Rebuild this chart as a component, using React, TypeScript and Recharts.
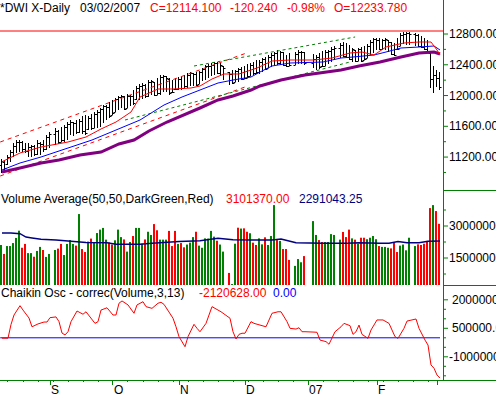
import React from 'react';
import { ComposedChart, Bar, Line, XAxis, YAxis, ReferenceLine } from 'recharts';

const FONT = "'Liberation Sans', Arial, sans-serif";
const AXIS_GREEN = '#008000';
const UP_GREEN = '#008000';
const DOWN_RED = '#ff0000';

// one slot per weekday, 10 Aug 2006 .. 2 Mar 2007 (market holidays left empty)
const highs = [
  11175, 11162, 11227, 11292, 11383, 11422, 11422, 11409, 11383, 11383,
  11357, 11357, 11422, 11396, 11422, 11487, 11526, null, 11578, 11552,
  11591, 11617, 11656, 11682, 11656, 11682, 11695, 11734, 11747, 11734,
  11760, 11786, 11812, 11838, 11877, 11877, 11916, 11942, 11968, 11994,
  12007, 11994, 12020, 12007, 12072, 12124, 12150, 12163, 12150, 12202,
  12202, 12176, 12228, 12267, 12267, 12254, 12228, 12202, 12228, 12241,
  12241, 12267, 12293, 12306, 12293, 12306, 12319, 12358, 12397, 12410,
  12423, 12436, 12436, 12423, 12384, null, 12306, 12332, 12332, 12358,
  12371, 12384, 12410, 12423, 12436, 12462, 12462, 12488, 12501, 12527,
  12553, 12566, 12592, 12579, 12566, 12527, 12553, null, 12566, 12592,
  12579, 12566, null, null, 12540, 12527, 12553, 12579, 12592, 12592,
  12631, 12644, null, 12683, 12696, 12683, 12657, 12618, 12592, 12618,
  12631, 12644, 12670, 12722, 12748, 12748, 12748, 12735, 12748, 12722,
  12696, 12683, 12748, 12813, 12826, 12826, 12826, null, 12813, 12800,
  12774, 12748, 12722, 12553, 12384, 12332, 12306,
];
const lows = [
  10993, 11032, 11097, 11136, 11201, 11253, 11266, 11266, 11253, 11201,
  11201, 11214, 11227, 11227, 11266, 11292, 11318, null, 11357, 11370,
  11396, 11396, 11422, 11487, 11474, 11500, 11513, 11500, 11487, 11552,
  11552, 11578, 11578, 11591, 11643, 11682, 11708, 11747, 11786, 11812,
  11838, 11812, 11838, 11864, 11877, 11942, 11942, 11955, 11968, 11981,
  12007, 11994, 12007, 12007, 12046, 12046, 12007, 12033, 12072, 12072,
  12072, 12098, 12098, 12124, 12124, 12124, 12150, 12189, 12202, 12228,
  12254, 12267, 12280, 12254, 12202, null, 12137, 12150, 12176, 12176,
  12202, 12215, 12228, 12254, 12267, 12280, 12280, 12306, 12332, 12358,
  12371, 12384, 12397, 12397, 12384, 12371, 12384, null, 12397, 12410,
  12410, 12397, null, null, 12358, 12332, 12345, 12371, 12384, 12410,
  12436, 12462, null, 12488, 12501, 12488, 12462, 12436, 12436, 12449,
  12436, 12462, 12488, 12527, 12553, 12592, 12592, 12592, 12592, 12566,
  12527, 12514, 12592, 12644, 12670, 12657, 12657, null, 12644, 12631,
  12618, 12592, 12566, 12098, 12033, 12111, 12072,
];
const opens = [
  11100, 11140, 11110, 11200, 11270, 11350, 11400, 11390, 11300, 11280,
  11330, 11340, 11240, 11380, 11370, 11300, 11460, null, 11500, 11540,
  11400, 11420, 11590, 11630, 11650, 11640, 11530, 11670, 11540, 11560,
  11710, 11580, 11760, 11790, 11820, 11860, 11850, 11750, 11790, 11950,
  11980, 11990, 11840, 12000, 11990, 11950, 12100, 12130, 12140, 11990,
  12180, 12170, 12010, 12030, 12240, 12250, 12220, 12040, 12080, 12090,
  12220, 12100, 12120, 12270, 12290, 12280, 12150, 12300, 12340, 12380,
  12390, 12400, 12420, 12290, 12380, null, 12300, 12280, 12180, 12320,
  12340, 12220, 12230, 12260, 12400, 12290, 12300, 12440, 12470, 12360,
  12500, 12530, 12550, 12420, 12560, 12400, 12390, null, 12400, 12540,
  12570, 12560, null, null, 12420, 12480, 12500, 12380, 12390, 12570,
  12580, 12610, null, 12620, 12660, 12520, 12500, 12480, 12590, 12450,
  12600, 12462, 12490, 12650, 12700, 12730, 12720, 12610, 12720, 12720,
  12690, 12540, 12600, 12650, 12790, 12800, 12810, null, 12800, 12786,
  12650, 12630, 12610, 12550, 12216, 12268, 12234,
];
const closes = [
  11150, 11060, 11200, 11270, 11350, 11400, 11400, 11300, 11280, 11330,
  11340, 11240, 11380, 11370, 11300, 11460, 11500, null, 11540, 11400,
  11420, 11590, 11630, 11660, 11640, 11530, 11670, 11540, 11510, 11710,
  11580, 11760, 11790, 11820, 11860, 11850, 11730, 11770, 11950, 11980,
  11990, 11830, 12000, 11990, 11900, 12100, 12130, 12140, 11990, 12180,
  12190, 12010, 12030, 12240, 12250, 12230, 12030, 12050, 12090, 12220,
  12100, 12120, 12270, 12290, 12280, 12140, 12300, 12340, 12380, 12390,
  12400, 12420, 12290, 12400, 12360, null, 12280, 12160, 12320, 12340,
  12220, 12230, 12250, 12400, 12290, 12300, 12440, 12470, 12350, 12500,
  12530, 12550, 12420, 12560, 12400, 12390, 12400, null, 12540, 12570,
  12560, 12420, null, null, 12480, 12500, 12370, 12390, 12570, 12580,
  12610, 12620, null, 12660, 12520, 12500, 12480, 12600, 12450, 12600,
  12450, 12480, 12650, 12700, 12730, 12720, 12610, 12720, 12730, 12700,
  12540, 12530, 12600, 12790, 12800, 12810, 12800, null, 12786, 12650,
  12630, 12610, 12580, 12216, 12268, 12234, 12114,
];

const volumes = [
  2110000, 1690000, 2060000, 2060000, 2200000, 2440000, 2780000, 1980000, 2160000, 1730000,
  1730000, 1560000, 1830000, 2020000, 1875000, 1550000, 1690000, null, 1875000, 1940000,
  2160000, 1640000, 2160000, 2340000, 2160000, 2080000, 3560000, 1920000, 1780000, 2270000,
  2410000, 2250000, 2670000, 2830000, 2910000, 2360000, 2230000, 2130000, 2330000, 2830000,
  2480000, 2370000, 1800000, 2250000, 2530000, 2910000, 2910000, 2170000, 2370000, 2730000,
  2580000, 3090000, 2800000, 2360000, 2360000, 2360000, 2770000, 2060000, 2770000, 2160000,
  2200000, 2000000, 2130000, 2220000, 2480000, 2730000, 2080000, 1980000, 2420000, 2410000,
  2770000, 2500000, 2310000, 2130000, 1800000, null, 800000, 280000, 2170000, 2920000,
  2880000, 2890000, 2730000, 2660000, 2220000, 2110000, 2420000, 2140000, 2470000, 2110000,
  2530000, 3980000, 2340000, 2300000, 1920000, 1920000, 1410000, null, 1130000, 1450000,
  1300000, 1590000, null, null, 3230000, 2580000, 2340000, 2250000, 2250000, 2250000,
  2620000, 2580000, null, 2360000, 2720000, 2480000, 2830000, 2420000, 2360000, 2160000,
  2450000, 2450000, 2380000, 2450000, 2530000, 2380000, 2060000, 2020000, 2020000, 1980000,
  1950000, 2220000, 1780000, 2080000, 2130000, 1860000, 2450000, null, 2060000, 2140000,
  2110000, 2170000, 2300000, 3840000, 3980000, 3700000, 3101370,
];
// G = up day (dark green bar), R = down day (red bar)
const volumeSide =
  'GRGGGGGRRG' + 'GRGGRGG-GR' + 'RGGGGRGRRG' + 'RGGGGGRRGG' + 'GRGGRGGGRG' +
  'GRRGGGRRRG' + 'RRGGGRGGGG' + 'GGRGG-RGGR' + 'GRRGRRGGRG' + 'GGRGRRR-GG' +
  'GR--GGRRGG' + 'GG-GRRRGRG' + 'RRGGGGRGGG' + 'RRRGGGG-GR' + 'RRRRGRR';

const volAvgSlots = [0, 3, 6, 8, 10, 13, 18, 22, 28, 35, 38, 46, 50, 59, 66, 72, 77, 83, 90, 93, 98, 107, 115, 119, 126, 129, 132, 135, 139, 142, 146];
const volAvg = [2670000, 2670000, 2640000, 2480000, 2440000, 2380000, 2340000, 2300000, 2230000, 2220000, 2140000, 2140000, 2190000, 2270000, 2310000, 2420000, 2360000, 2340000, 2340000, 2390000, 2220000, 2190000, 2190000, 2220000, 2190000, 2190000, 2270000, 2220000, 2220000, 2280000, 2291043];

const redMaSlots = [0, 6, 13, 22, 28, 33, 38, 43, 46, 52, 57, 63, 66, 70, 74, 79, 85, 90, 96, 104, 110, 116, 120, 124, 128, 134, 139, 143, 145, 146];
const redMa = [11140, 11253, 11331, 11396, 11461, 11565, 11656, 11786, 11981, 12085, 12085, 12098, 12124, 12215, 12280, 12280, 12358, 12449, 12462, 12462, 12488, 12553, 12566, 12527, 12631, 12683, 12696, 12696, 12592, 12527];

const blueMaSlots = [0, 6, 13, 22, 30, 38, 46, 54, 60, 66, 72, 77, 83, 86, 90, 96, 107, 113, 117, 124, 128, 133, 139, 144, 145, 146];
const blueMa = [11032, 11123, 11201, 11318, 11422, 11552, 11682, 11877, 11981, 12072, 12163, 12202, 12241, 12306, 12384, 12423, 12436, 12488, 12501, 12527, 12566, 12618, 12631, 12644, 12618, 12592];

const purpleMaSlots = [0, 6, 13, 19, 26, 33, 39, 44, 49, 55, 66, 72, 77, 83, 86, 93, 101, 113, 119, 126, 133, 139, 144, 146];
const purpleMa = [11006, 11058, 11123, 11162, 11227, 11266, 11370, 11422, 11539, 11656, 11838, 11942, 11994, 12072, 12124, 12202, 12267, 12332, 12384, 12436, 12501, 12553, 12566, 12540];

// trend channels: [start slot, start price, end slot, end price]
const redChannelTop = [-0.6, 11396, 81.5, 12553];
const redChannelBottom = [-0.6, 10954, 81, 12111];
const greenChannelTop = [64, 12384, 117.7, 12761];
const greenChannelBottom = [41, 11682, 116, 12436];
const highLine = 12839;

const chaikinSlots = [
  0, 2, 3, 4, 6, 7, 9, 10, 12, 14, 15, 16, 18, 19, 20, 21, 22, 23, 25, 27, 28, 31, 32, 33, 35, 37, 38, 39, 40,
  42, 44, 45, 47, 48, 50, 52, 53, 54, 57, 58, 59, 61, 62, 64, 65, 66, 68, 70, 73, 76, 77, 78, 79, 80, 81, 83,
  84, 86, 88, 90, 92, 93, 95, 96, 98, 99, 100, 101, 104, 105, 106, 108, 109, 111, 113, 114, 116, 117, 118,
  119, 120, 122, 123, 125, 127, 129, 131, 132, 134, 135, 138, 139, 141, 142, 143, 144, 145, 146,
];
const chaikin = [
  -20000, -20000, 700000, 1200000, 1690000, 1460000, 1040000, 580000, 730000, 830000, 830000, 1060000, 1100000,
  850000, 250000, 150000, 320000, 850000, 1410000, 1240000, 1370000, 760000, 850000, 1460000, 1580000, 1200000,
  1200000, 1820000, 1940000, 1730000, 1290000, 1730000, 1900000, 1640000, 1550000, 1820000, 1870000, 1760000,
  1030000, 580000, 60000, -470000, 60000, 710000, 500000, 320000, 760000, 1640000, 1370000, 1030000, 320000,
  -60000, 180000, 240000, 240000, 850000, 760000, 670000, 580000, 1290000, 1370000, 1370000, 850000, 500000,
  460000, 530000, 320000, 320000, 300000, 290000, -120000, -200000, -340000, 320000, 580000, 760000, 640000,
  180000, 320000, 670000, 180000, -30000, 410000, 940000, 940000, 760000, 60000, -30000, 500000, 880000,
  990000, 500000, -120000, -380000, -1430000, -1600000, -1960000, -2120628,
];

const priceTicks = [11000, 11200, 11400, 11600, 11800, 12000, 12200, 12400, 12600, 12800];
const priceLabels = [11200, 11600, 12000, 12400, 12800];
const volumeTicks = [750000, 1500000, 2250000, 3000000, 3750000];
const volumeLabels = [1500000, 3000000];
const chaikinTicks = [-2000000, -1500000, -1000000, -500000, 0, 500000, 1000000, 1500000, 2000000];
const chaikinLabels = [-1000000, 500000, 2000000];

const weekTicks = [2, 7, 12, 17, 22, 27, 32, 42, 47, 52, 57, 62, 67, 72, 77, 82, 87, 92, 97, 107, 112, 117, 122, 127, 132, 137, 142];
const monthTicks = [16, 37, 59, 81, 102, 125, 145];
const monthLabels = ['S', 'O', 'N', 'D', '07', 'F', ''];
const dayTicks = [...weekTicks, ...monthTicks].sort((a, b) => a - b);

const SLOT_DOMAIN: [number, number] = [-2 / 3, 147];

const priceRows = highs.map((h, k) => ({
  k,
  range: h == null ? null : [lows[k], h],
  high: h,
  low: lows[k],
  open: opens[k],
  close: closes[k],
}));
const volumeRows = volumes.map((v, k) => ({ k, volume: v, up: volumeSide[k] === 'G' }));
const points = (ks: number[], vs: number[]) => ks.map((k, i) => ({ k, v: vs[i] }));
const segment = (s: number[]) => [{ k: s[0], v: s[1] }, { k: s[2], v: s[3] }];

const OhlcShape = (props: any) => {
  const { x, y, width, height, payload } = props;
  if (payload.high == null || !height) return null;
  const cx = Math.floor(x + width / 2) + 0.5;
  const span = payload.high - payload.low;
  const yo = Math.round(y + ((payload.high - payload.open) / span) * height) + 0.5;
  const yc = Math.round(y + ((payload.high - payload.close) / span) * height) + 0.5;
  return (
    <g stroke="#000" strokeWidth={1}>
      <line x1={cx} x2={cx} y1={y} y2={y + height} />
      <line x1={cx - 2} x2={cx} y1={yo} y2={yo} />
      <line x1={cx} x2={cx + 2} y1={yc} y2={yc} />
    </g>
  );
};

const VolumeShape = (props: any) => {
  const { x, y, width, height, payload } = props;
  if (payload.volume == null || !height) return null;
  const c = Math.floor(x + width / 2);
  return <rect x={c - 1} y={y} width={2} height={height} fill={payload.up ? UP_GREEN : DOWN_RED} />;
};

const rightTick = (labels: number[], fmt: (v: number) => string, lift: (v: number) => number) => (props: any) => {
  const { x, y, payload } = props;
  const v = payload.value;
  const major = labels.includes(v);
  return (
    <g>
      <line x1={x} x2={x + (major ? 5 : 3)} y1={y} y2={y} stroke={AXIS_GREEN} />
      {major && (
        <text x={x + 6 + lift(v)} y={y + 4} fontSize={12} fontFamily={FONT} fill="#000">
          {fmt(v)}
        </text>
      )}
    </g>
  );
};

const dayTick = (props: any) => {
  const { x, y, payload } = props;
  const m = monthTicks.indexOf(payload.value);
  const px = Math.floor(x) + 0.5;
  return (
    <g>
      <line x1={px} x2={px} y1={y} y2={y + (m >= 0 ? 5 : 2)} stroke={AXIS_GREEN} />
      {m >= 0 && (
        <text x={x + 1} y={y + 14} fontSize={12} fontFamily={FONT} fill="#000">
          {monthLabels[m]}
        </text>
      )}
    </g>
  );
};

const fixed2 = (v: number) => v.toFixed(2);

export default function App() {
  return (
    <div style={{ position: 'absolute', left: 0, top: 0, width: 496, height: 395, background: '#fff', overflow: 'hidden' }}>
      <div style={{ position: 'absolute', left: 0, top: 0 }}>
        <ComposedChart width={496} height={195} data={priceRows} margin={{ top: 22, right: 0, bottom: 4, left: 0 }}>
          <XAxis dataKey="k" type="number" domain={SLOT_DOMAIN} allowDataOverflow hide />
          <YAxis
            orientation="right"
            width={53}
            type="number"
            domain={[10759, 12956]}
            allowDataOverflow
            ticks={priceTicks}
            interval={0}
            axisLine={false}
            tickLine={false}
            tickSize={0}
            tickMargin={0}
            tick={rightTick(priceLabels, fixed2, () => 0)}
          />
          <ReferenceLine y={highLine} stroke="#ff0000" />
          <Bar dataKey="range" barSize={3} shape={OhlcShape} isAnimationActive={false} />
          <Line data={segment(redChannelTop)} dataKey="v" stroke="#ff0000" strokeDasharray="4 4" dot={false} isAnimationActive={false} />
          <Line data={segment(redChannelBottom)} dataKey="v" stroke="#ff0000" strokeDasharray="4 4" dot={false} isAnimationActive={false} />
          <Line data={segment(greenChannelTop)} dataKey="v" stroke="#008000" strokeDasharray="3 3" dot={false} isAnimationActive={false} />
          <Line data={segment(greenChannelBottom)} dataKey="v" stroke="#008000" strokeDasharray="3 3" dot={false} isAnimationActive={false} />
          <Line data={points(purpleMaSlots, purpleMa)} dataKey="v" stroke="#800080" strokeWidth={3} dot={false} isAnimationActive={false} />
          <Line data={points(blueMaSlots, blueMa)} dataKey="v" stroke="#0000ff" strokeWidth={1} dot={false} isAnimationActive={false} />
          <Line data={points(redMaSlots, redMa)} dataKey="v" stroke="#ff0000" strokeWidth={1} dot={false} isAnimationActive={false} />
        </ComposedChart>
      </div>

      <div style={{ position: 'absolute', left: 0, top: 190 }}>
        <ComposedChart width={496} height={96} data={volumeRows} margin={{ top: 3, right: 0, bottom: 1, left: 0 }}>
          <XAxis dataKey="k" type="number" domain={SLOT_DOMAIN} allowDataOverflow hide />
          <YAxis
            orientation="right"
            width={53}
            type="number"
            domain={[234375, 4546875]}
            allowDataOverflow
            ticks={volumeTicks}
            interval={0}
            axisLine={false}
            tickLine={false}
            tickSize={0}
            tickMargin={0}
            tick={rightTick(volumeLabels, fixed2, () => 0)}
          />
          <Bar dataKey="volume" barSize={3} shape={VolumeShape} isAnimationActive={false} />
          <Line data={points(volAvgSlots, volAvg)} dataKey="v" stroke="#000080" strokeWidth={1.5} dot={false} isAnimationActive={false} />
        </ComposedChart>
      </div>

      <div style={{ position: 'absolute', left: 0, top: 285 }}>
        <ComposedChart width={496} height={110} data={points(chaikinSlots, chaikin)} margin={{ top: 5, right: 0, bottom: 0, left: 0 }}>
          <XAxis
            dataKey="k"
            type="number"
            domain={SLOT_DOMAIN}
            allowDataOverflow
            ticks={dayTicks}
            interval={0}
            height={15}
            axisLine={false}
            tickLine={false}
            tickSize={0}
            tickMargin={0}
            tick={dayTick}
          />
          <YAxis
            orientation="right"
            width={53}
            type="number"
            domain={[-2221000, 2516000]}
            allowDataOverflow
            ticks={chaikinTicks}
            interval={0}
            axisLine={false}
            tickLine={false}
            tickSize={0}
            tickMargin={0}
            tick={rightTick(chaikinLabels, fixed2, (v) => (v >= 0 ? 3 : 0))}
          />
          <ReferenceLine segment={[{ x: -0.6, y: 0 }, { x: 146, y: 0 }]} stroke="#0000ff" />
          <Line dataKey="v" stroke="#ff0000" strokeWidth={1} dot={false} isAnimationActive={false} />
        </ComposedChart>
      </div>

      <svg width={496} height={395} style={{ position: 'absolute', left: 0, top: 0, pointerEvents: 'none' }} fontFamily={FONT} fontSize={12}>
        <line x1={443.5} x2={443.5} y1={0} y2={381} stroke={AXIS_GREEN} />
        <line x1={443} x2={496} y1={190.5} y2={190.5} stroke={AXIS_GREEN} />
        <line x1={443} x2={496} y1={285.5} y2={285.5} stroke={AXIS_GREEN} />
        <line x1={0} x2={496} y1={380.5} y2={380.5} stroke={AXIS_GREEN} />

        <text x={0} y={12} fill="#000">*DWI X-Daily</text>
        <text x={80} y={12} fill="#000">03/02/2007</text>
        <text x={150} y={12} fill="#ff0000">C=12114.100</text>
        <text x={230} y={12} fill="#ff0000">-120.240</text>
        <text x={287} y={12} fill="#ff0000">-0.98%</text>
        <text x={334} y={12} fill="#ff0000">O=12233.780</text>

        <text x={1} y={203} fill="#000">Volume Average(50,50,DarkGreen,Red)</text>
        <text x={226} y={203} fill="#ff0000">3101370.00</text>
        <text x={299} y={203} fill="#000080">2291043.25</text>

        <text x={1} y={297} fill="#000">Chaikin Osc - correc(Volume,3,13)</text>
        <text x={199} y={297} fill="#ff0000">-2120628.00</text>
        <text x={273} y={297} fill="#0000ff">0.00</text>
      </svg>
    </div>
  );
}
